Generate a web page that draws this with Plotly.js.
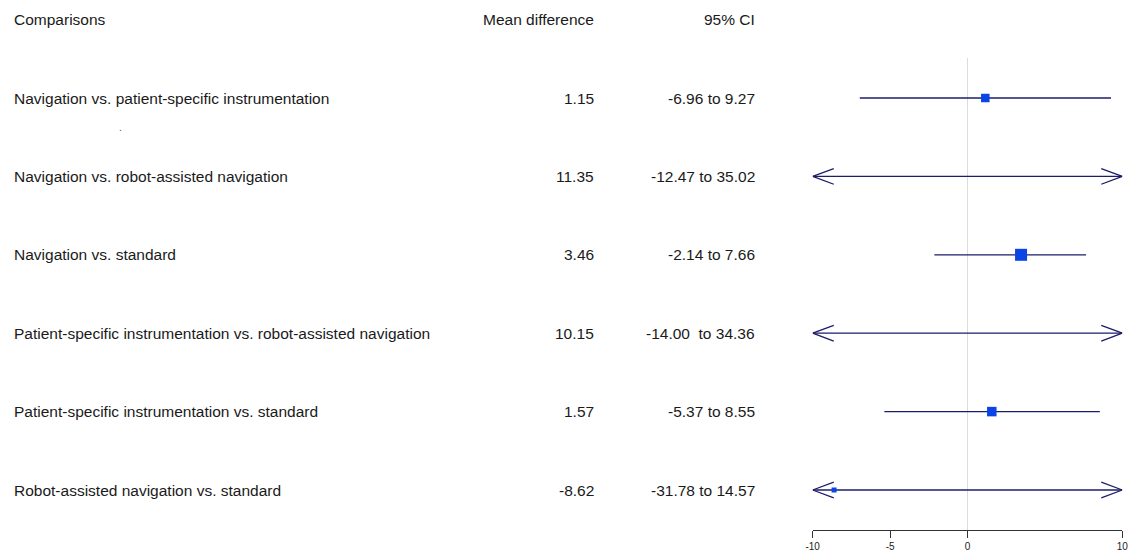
<!DOCTYPE html>
<html><head><meta charset="utf-8">
<script src="https://cdn.plot.ly/plotly-3.0.1.min.js"></script>
<style>html,body{margin:0;padding:0;background:#fff}#c{width:1130px;height:555px}</style>
</head><body><div id="c"></div>
<script>
const comparisons = [
  "Navigation vs. patient-specific instrumentation",
  "Navigation vs. robot-assisted navigation",
  "Navigation vs. standard",
  "Patient-specific instrumentation vs. robot-assisted navigation",
  "Patient-specific instrumentation vs. standard",
  "Robot-assisted navigation vs. standard"
];
const meanDiff = [1.15, 11.35, 3.46, 10.15, 1.57, -8.62];
const ciLow = [-6.96, -12.47, -2.14, -14.00, -5.37, -31.78];
const ciHigh = [9.27, 35.02, 7.66, 34.36, 8.55, 14.57];
const ciText = ["-6.96 to 9.27", "-12.47 to 35.02", "-2.14 to 7.66", "-14.00\u00a0 to 34.36", "-5.37 to 8.55", "-31.78 to 14.57"];
const weights = [8.5, 9, 12, 9, 9.5, 5];
const headers = ["Comparisons", "Mean difference", "95% CI"];
const xTicks = [-10, -5, 0, 10];
const xMin = -10, xMax = 10;

const W = 1130, H = 555;
const lineCol = "#1c1c6b", ptCol = "#0a44e6", txtCol = "#1a1a1a";
const arrowLen = 1.36, arrowH = 0.10;

const traces = [];
comparisons.forEach((c, i) => {
  const lo = Math.max(ciLow[i], xMin), hi = Math.min(ciHigh[i], xMax);
  traces.push({x: [lo, hi], y: [i, i], mode: "lines", line: {color: lineCol, width: 1.3}, hoverinfo: "skip", cliponaxis: false, showlegend: false});
  if (ciLow[i] < xMin) {
    traces.push({x: [xMin + arrowLen, xMin, xMin + arrowLen], y: [i - arrowH, i, i + arrowH], mode: "lines", line: {color: lineCol, width: 1.3}, cliponaxis: false, showlegend: false, hoverinfo: "skip"});
  }
  if (ciHigh[i] > xMax) {
    traces.push({x: [xMax - arrowLen, xMax, xMax - arrowLen], y: [i - arrowH, i, i + arrowH], mode: "lines", line: {color: lineCol, width: 1.3}, cliponaxis: false, showlegend: false, hoverinfo: "skip"});
  }
});
const px = [], py = [], ps = [];
meanDiff.forEach((m, i) => { if (m >= xMin && m <= xMax) { px.push(m); py.push(i); ps.push(weights[i]); } });
traces.push({x: px, y: py, mode: "markers", opacity: 1, marker: {symbol: "square", color: ptCol, opacity: 1, size: ps, line: {width: 0}}, cliponaxis: false, showlegend: false});

const font = {family: "Liberation Sans, Arial, sans-serif", size: 15.5, color: txtCol};
const ann = [];
const colX = [12 / W, 596 / W, 757 / W];
headers.forEach((h, k) => {
  ann.push({text: h, xref: "paper", yref: "y", x: colX[k], y: -1, xanchor: k === 0 ? "left" : "right", yanchor: "middle", showarrow: false, font: font});
});
comparisons.forEach((c, i) => {
  ann.push({text: c, xref: "paper", yref: "y", x: colX[0], y: i, xanchor: "left", yanchor: "middle", showarrow: false, font: font});
  ann.push({text: meanDiff[i].toFixed(2), xref: "paper", yref: "y", x: colX[1], y: i, xanchor: "right", yanchor: "middle", showarrow: false, font: font});
  ann.push({text: ciText[i], xref: "paper", yref: "y", x: colX[2], y: i, xanchor: "right", yanchor: "middle", showarrow: false, font: font});
});
ann.push({text: ".", xref: "paper", yref: "paper", x: 120 / W, y: 1 - 128 / H, xanchor: "center", yanchor: "middle", showarrow: false, font: {family: font.family, size: 10, color: "#555"}});

const layout = {
  width: W, height: H, margin: {l: 0, r: 0, t: 0, b: 0},
  paper_bgcolor: "#fff", plot_bgcolor: "#fff",
  showlegend: false,
  xaxis: {domain: [812.7 / W, 1122.3 / W], range: [xMin, xMax], anchor: "free", position: 1 - 530 / H,
    tickvals: xTicks, ticktext: xTicks.map(String), ticks: "outside", ticklen: 7, tickwidth: 1, tickcolor: "#333",
    showline: true, linecolor: "#333", linewidth: 1, showgrid: false, zeroline: false,
    tickfont: {family: "Liberation Sans, Arial, sans-serif", size: 10, color: "#222"}, fixedrange: true},
  yaxis: {domain: [0, 1], range: [(H - 98) / 78.4, -98 / 78.4], visible: false, showgrid: false, zeroline: false, fixedrange: true},
  shapes: [{type: "line", xref: "x", yref: "paper", x0: 0, x1: 0, y0: 1 - 530 / H, y1: 1 - 58 / H, line: {color: "#dcdcdc", width: 1}, layer: "below"}],
  annotations: ann
};
Plotly.newPlot("c", traces, layout, {displayModeBar: false, staticPlot: true});
</script></body></html>
